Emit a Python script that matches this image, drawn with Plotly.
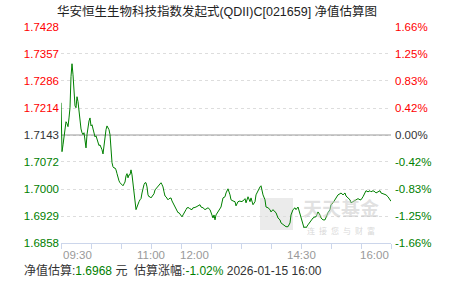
import plotly.graph_objects as go

title_text = "华安恒生生物科技指数发起式(QDII)C[021659] 净值估算图"
prev_nav = 1.7143
est_nav = "1.6968"
est_pct = "-1.02%"
est_time = "2026-01-15 16:00"

# trading minutes since 09:30 (lunch break removed: 12:00 == 13:00 == minute 150)
minute_am = list(range(0, 134))
nav_am = [
    1.7228, 1.7099, 1.7117, 1.7136, 1.7157, 1.7178, 1.7173, 1.7165, 1.7188, 1.7215,
    1.7297, 1.7331, 1.7302, 1.7254, 1.7220, 1.7215, 1.7244, 1.7231, 1.7204, 1.7183,
    1.7159, 1.7149, 1.7144, 1.7149, 1.7125, 1.7109, 1.7144, 1.7170, 1.7180, 1.7188,
    1.7167, 1.7170, 1.7159, 1.7149, 1.7138, 1.7141, 1.7133, 1.7122, 1.7115, 1.7117,
    1.7112, 1.7104, 1.7093, 1.7117, 1.7144, 1.7157, 1.7167, 1.7162, 1.7157, 1.7144,
    1.7099, 1.7070, 1.7059, 1.7056, 1.7056, 1.7051, 1.7041, 1.7030, 1.7022, 1.7017,
    1.7014, 1.7012, 1.7009, 1.7014, 1.7019, 1.7035, 1.7041, 1.7030, 1.7038, 1.7038,
    1.7051, 1.7038, 1.7017, 1.6998, 1.6972, 1.6946, 1.6953, 1.6964, 1.6967, 1.6972,
    1.6975, 1.6990, 1.7006, 1.7012, 1.7017, 1.7017, 1.7006, 1.6985, 1.6980, 1.6980,
    1.6977, 1.6980, 1.6985, 1.6988, 1.6998, 1.7001, 1.7004, 1.7006, 1.7009, 1.7012,
    1.7017, 1.7012, 1.7006, 1.6993, 1.6982, 1.6980, 1.6975, 1.6972, 1.6975, 1.6977,
    1.6977, 1.6969, 1.6964, 1.6961, 1.6956, 1.6948, 1.6943, 1.6938, 1.6938, 1.6935,
    1.6932, 1.6927, 1.6932, 1.6938, 1.6940, 1.6946, 1.6951, 1.6951, 1.6951, 1.6948,
    1.6946, 1.6946, 1.6951, 1.6951,
]
minute_pm = [
    135, 137, 139, 140, 142, 144, 145, 147, 149, 150,
    152, 153, 154, 155, 157, 159, 160, 162, 164, 165,
    167, 169, 170, 172, 174, 175, 177, 179, 180, 182,
    184, 185, 187, 189, 190, 192, 194, 195, 197, 199,
    200, 201, 202, 204, 205, 207, 209, 210, 212, 214,
    215, 217, 219, 220, 222, 224, 225, 227, 229, 230,
    232, 234, 235, 237, 239, 240, 242, 243, 244, 245,
    247, 249, 250, 252, 254, 255, 257, 259, 260, 262,
    264, 265, 267, 269, 270, 272, 274, 275, 277, 279,
    280, 282, 284, 285, 287, 289, 290, 292, 294, 295,
    297, 299, 300, 302, 304, 305, 307, 309, 310, 312,
    314, 315, 317, 319, 320, 322, 324, 325, 327, 329,
    330,
]
nav_pm = [
    1.6953, 1.6956, 1.6959, 1.6953, 1.6951, 1.6946, 1.6948, 1.6951, 1.6946, 1.6940,
    1.6924, 1.6932, 1.6919, 1.6932, 1.6940, 1.6951, 1.6953, 1.6977, 1.6980, 1.6990,
    1.7001, 1.6985, 1.6972, 1.6969, 1.6967, 1.6956, 1.6967, 1.6969, 1.6967, 1.6969,
    1.6975, 1.6964, 1.6980, 1.6967, 1.6977, 1.6959, 1.6967, 1.6985, 1.6998, 1.7006,
    1.7009, 1.6998, 1.6985, 1.6972, 1.6953, 1.6951, 1.6946, 1.6940, 1.6946, 1.6940,
    1.6938, 1.6924, 1.6919, 1.6911, 1.6906, 1.6901, 1.6901, 1.6901, 1.6911, 1.6932,
    1.6946, 1.6951, 1.6946, 1.6953, 1.6932, 1.6924, 1.6906, 1.6898, 1.6901, 1.6898,
    1.6906, 1.6914, 1.6919, 1.6924, 1.6927, 1.6927, 1.6940, 1.6932, 1.6924, 1.6919,
    1.6919, 1.6927, 1.6938, 1.6946, 1.6959, 1.6964, 1.6972, 1.6977, 1.6985, 1.6988,
    1.6990, 1.6985, 1.6990, 1.6982, 1.6977, 1.6972, 1.6964, 1.6967, 1.6969, 1.6972,
    1.6975, 1.6972, 1.6972, 1.6980, 1.6990, 1.6996, 1.6993, 1.6996, 1.6993, 1.6996,
    1.6993, 1.6990, 1.6993, 1.6996, 1.6990, 1.6988, 1.6985, 1.6985, 1.6980, 1.6972,
    1.6968,
]

nav_ticks = [1.7428, 1.7357, 1.7286, 1.7214, 1.7143, 1.7072, 1.7000, 1.6929, 1.6858]
nav_labels = ["1.7428", "1.7357", "1.7286", "1.7214", "1.7143", "1.7072", "1.7000", "1.6929", "1.6858"]
pct_ticks = [1.66, 1.25, 0.83, 0.42, 0.00, -0.42, -0.83, -1.25, -1.66]
pct_labels = ["1.66%", "1.25%", "0.83%", "0.42%", "0.00%", "-0.42%", "-0.83%", "-1.25%", "-1.66%"]

x_tick_minutes = [0, 30, 60, 90, 120, 150, 180, 210, 240, 270, 300, 330]
x_label_minutes = [0, 90, 150, 240, 330]
x_label_text = ["09:30", "11:00", "12:00", "14:30", "16:00"]
x_label_anchor = ["left", "center", "right", "center", "right"]

RED = "#ff0000"
GREEN = "#008000"
DARK = "#333333"

minutes = minute_am + minute_pm
nav = nav_am + nav_pm
pct = [(v / prev_nav - 1) * 100 for v in nav]


def tint(sign):
    return RED if sign > 0 else (GREEN if sign < 0 else DARK)


nav_text = [f'<span style="color:{tint(round(v - prev_nav, 4))}">{t}</span>' for v, t in zip(nav_ticks, nav_labels)]
pct_text = [f'<span style="color:{tint(p)}">{t}</span>' for p, t in zip(pct_ticks, pct_labels)]

L, R, T, B = 61, 60, 27, 38
W, H = 451, 281
PW, PH = W - L - R, H - T - B


def px_x(x):
    return (x - L) / PW


def px_y(y):
    return (H - B - y) / PH


fig = go.Figure()
fig.add_trace(go.Scatter(x=minutes, y=nav, mode="lines",
                         line=dict(color=GREEN, width=1), hoverinfo="skip", yaxis="y"))
fig.add_trace(go.Scatter(x=minutes, y=pct, mode="lines",
                         line=dict(color="rgba(0,0,0,0)", width=0), hoverinfo="skip", yaxis="y2"))

tick_font = dict(family="Liberation Sans", size=11.5, color=DARK)

fig.update_layout(
    width=W, height=H,
    margin=dict(l=L, r=R, t=T, b=B, pad=0),
    paper_bgcolor="white", plot_bgcolor="white",
    showlegend=False,
    title=dict(text=title_text, x=217 / W, xanchor="center", y=1 - 12 / H, yanchor="middle",
               font=dict(family="Liberation Sans, Noto Sans CJK SC", size=12.5, color="#222222")),
    xaxis=dict(range=[0, 330], showgrid=False, zeroline=False, showline=True,
               linecolor="#ccd6eb", linewidth=1, ticks="outside", ticklen=5, tickcolor="#ccd6eb",
               tickmode="array", tickvals=x_tick_minutes, showticklabels=False, fixedrange=True),
    yaxis=dict(range=[nav_ticks[-1], nav_ticks[0]], tickmode="array", tickvals=nav_ticks, ticktext=nav_text,
               showgrid=True, gridcolor="#dddddd", griddash="dot", gridwidth=1,
               zeroline=False, showline=False, ticks="", tickfont=tick_font, fixedrange=True,
               ticklabelstandoff=1),
    yaxis2=dict(range=[pct_ticks[-1], pct_ticks[0]], overlaying="y", side="right",
                tickmode="array", tickvals=pct_ticks, ticktext=pct_text,
                showgrid=False, zeroline=False, showline=False, ticks="", tickfont=tick_font, fixedrange=True,
                ticklabelstandoff=3),
)

# baseline (previous NAV)
fig.add_shape(type="line", xref="x", yref="y", x0=0, x1=330, y0=prev_nav, y1=prev_nav,
              line=dict(color="#999999", width=1), layer="between")

# x labels
for m, t, a in zip(x_label_minutes, x_label_text, x_label_anchor):
    fig.add_annotation(x=m, xref="x", y=px_y(255), yref="paper", text=t, showarrow=False,
                       xanchor=a, yanchor="middle", font=dict(family="Liberation Sans", size=11.5, color="#999999"))

# footer
footer = (f'<span style="color:{DARK}">净值估算:</span><span style="color:{GREEN}">{est_nav}</span>'
          f'<span style="color:{DARK}"> 元  估算涨幅:</span><span style="color:{GREEN}">{est_pct}</span>'
          f'<span style="color:{DARK}"> {est_time}</span>')
fig.add_annotation(x=px_x(22), xref="paper", y=px_y(270), yref="paper", text=footer, showarrow=False,
                   xanchor="left", yanchor="middle",
                   font=dict(family="Liberation Sans, Noto Sans CJK SC", size=12, color=DARK))

# watermark
x0, x1, y0, y1 = px_x(260), px_x(293), px_y(230), px_y(198)
fig.add_shape(type="rect", xref="paper", yref="paper", x0=x0, x1=x1, y0=y0, y1=y1,
              fillcolor="#ebebeb", line=dict(width=0), layer="between")
fig.add_annotation(x=px_x(341), xref="paper", y=px_y(207), yref="paper", text="<b>天天基金</b>",
                   showarrow=False, xanchor="center", yanchor="middle", borderpad=0,
                   font=dict(family="Noto Sans CJK SC", size=19, color="rgba(200,200,200,0.55)"))
fig.add_annotation(x=px_x(341), xref="paper", y=px_y(230), yref="paper",
                   text="连\u2002接\u2002您\u2002与\u2002财\u2002富",
                   showarrow=False, xanchor="center", yanchor="middle", borderpad=0,
                   font=dict(family="Noto Sans CJK SC", size=8, color="rgba(190,190,190,0.6)"))

fig.write_html("out.html")
